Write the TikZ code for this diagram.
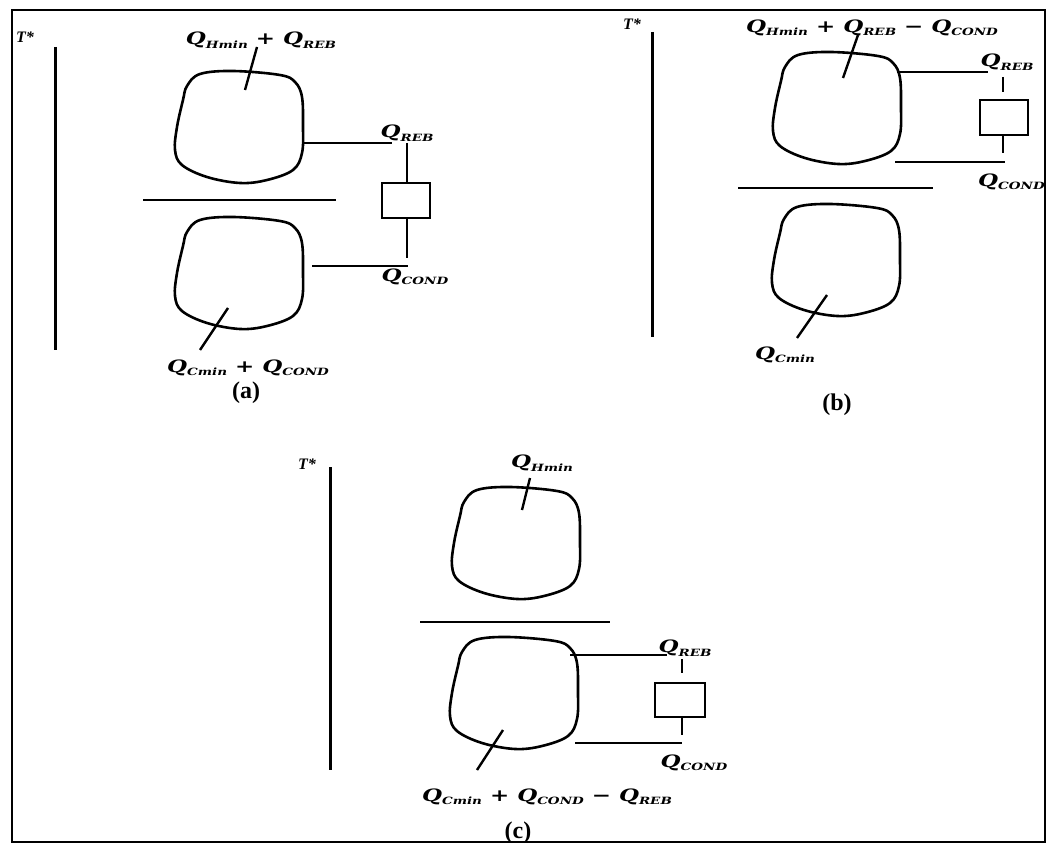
\documentclass[tikz,border=0pt]{standalone}
\usepackage{fontspec}
\newfontfamily\qf[FakeStretch=1.35]{DejaVu Serif}
\newfontfamily\capf{Liberation Serif}
\newcommand\QQ[1]{Q\raisebox{-3.5pt}{\fontsize{10}{10}\selectfont #1}}
\newcommand\mn{\char"2212}
\tikzset{
  blobline/.style={line width=2.6pt, line join=round},
  conn/.style={line width=1.8pt},
  lead/.style={line width=2.4pt},
  tline/.style={line width=3pt},
  sep/.style={line width=2pt},
  hbox/.style={draw, line width=1.8pt, minimum width=48pt, minimum height=35pt, inner sep=0},
  lab/.style={font={\fontsize{17}{17}\selectfont\qf\bfseries\itshape}, inner sep=0},
  tlab/.style={font={\fontsize{16}{16}\selectfont\capf\bfseries\itshape}, inner sep=0},
  caplab/.style={font={\fontsize{24}{24}\selectfont\capf\bfseries}, inner sep=0}
}
\newcommand\myblob[2]{\draw[blobline, shift={(#1,#2)}] plot[smooth cycle, tension=0.6] coordinates {(8,28) (12,14) (25,2) (58,-1) (105,3) (120,10) (127,25) (128,55) (127,81) (118,98) (92,108) (65,111) (32,105) (7,93) (0,78) (2,55)};}
\begin{document}
\begin{tikzpicture}[x=1pt,y=-1pt]
\useasboundingbox (0,0) rectangle (1055,845);
\draw[line width=2.5pt] (12,10) rectangle (1045,842);

% ---------- panel (a)
\node[tlab] (ta) at (25,37) {T*};
\coordinate (ta1) at (55,47); \coordinate (ta2) at (55,350);
\draw[tline] (ta1) -- (ta2);
\myblob{175}{72}
\myblob{175}{218}
\coordinate (sa1) at (143,200); \coordinate (sa2) at (336,200);
\draw[sep] (sa1) -- (sa2);
\node[lab] (la1) at (261,40) {\QQ{Hmin} + \QQ{REB}};
\coordinate (lda1) at (257,47); \coordinate (lda2) at (245,90);
\draw[lead] (lda1) -- (lda2);
\node[lab] (la2) at (248,368) {\QQ{Cmin} + \QQ{COND}};
\coordinate (ldb1) at (228,308); \coordinate (ldb2) at (200,350);
\draw[lead] (ldb1) -- (ldb2);
\node[lab] (ra) at (407,133) {\QQ{REB}};
\node[lab] (ca) at (415,277) {\QQ{COND}};
\node[hbox] (ba) at (406,200.5) {};
\coordinate (ha1) at (303,143); \coordinate (ha2) at (392,143);
\draw[conn] (ha1) -- (ha2);
\coordinate (va1) at (407,143);
\draw[conn] (va1) -- (ba.north -| va1);
\coordinate (va2) at (407,258);
\draw[conn] (ba.south -| va2) -- (va2);
\coordinate (hb1) at (312,266); \coordinate (hb2) at (408,266);
\draw[conn] (hb1) -- (hb2);
\node[caplab] (capa) at (246,393) {(a)};

% ---------- panel (b)
\node[tlab] (tb) at (632,24) {T*};
\coordinate (tb1) at (652,32); \coordinate (tb2) at (652,337);
\draw[tline] (tb1) -- (tb2);
\myblob{773}{53}
\myblob{772}{205}
\coordinate (sb1) at (738,188); \coordinate (sb2) at (933,188);
\draw[sep] (sb1) -- (sb2);
\node[lab] (lb1) at (872,28) {\QQ{Hmin} + \QQ{REB} \mn\ \QQ{COND}};
\coordinate (ldc1) at (858,35); \coordinate (ldc2) at (843,78);
\draw[lead] (ldc1) -- (ldc2);
\node[lab] (lb2) at (785,355) {\QQ{Cmin}};
\coordinate (ldd1) at (827,295); \coordinate (ldd2) at (797,338);
\draw[lead] (ldd1) -- (ldd2);
\node[lab] (rb) at (1007,62) {\QQ{REB}};
\node[lab, anchor=west] (cb) at (978,182) {\QQ{COND}};
\node[hbox] (bb) at (1004,117.5) {};
\coordinate (hc1) at (897,72); \coordinate (hc2) at (988,72);
\draw[conn] (hc1) -- (hc2);
\coordinate (vb1) at (1003,77); \coordinate (vb1e) at (1003,92);
\draw[conn] (vb1) -- (vb1e);
\coordinate (vb2) at (1003,153);
\draw[conn] (bb.south -| vb2) -- (vb2);
\coordinate (hd1) at (895,162); \coordinate (hd2) at (1005,162);
\draw[conn] (hd1) -- (hd2);
\node[caplab] (capb) at (837,405) {(b)};

% ---------- panel (c)
\node[tlab] (tc) at (307,464) {T*};
\coordinate (tc1) at (330,467); \coordinate (tc2) at (330,770);
\draw[tline] (tc1) -- (tc2);
\myblob{452}{488}
\myblob{450}{638}
\coordinate (sc1) at (420,622); \coordinate (sc2) at (610,622);
\draw[sep] (sc1) -- (sc2);
\node[lab] (lc1) at (542,463) {\QQ{Hmin}};
\coordinate (lde1) at (530,478); \coordinate (lde2) at (522,510);
\draw[lead] (lde1) -- (lde2);
\node[lab] (lc2) at (547,797) {\QQ{Cmin} + \QQ{COND} \mn\ \QQ{REB}};
\coordinate (ldf1) at (503,730); \coordinate (ldf2) at (477,770);
\draw[lead] (ldf1) -- (ldf2);
\node[lab] (rc) at (685,648) {\QQ{REB}};
\node[lab] (cc) at (694,763) {\QQ{COND}};
\node[hbox, minimum width=50pt, minimum height=34pt] (bc) at (680,700) {};
\coordinate (he1) at (570,655); \coordinate (he2) at (667,655);
\draw[conn] (he1) -- (he2);
\coordinate (vc1) at (682,659); \coordinate (vc1e) at (682,673);
\draw[conn] (vc1) -- (vc1e);
\coordinate (vc2) at (682,735);
\draw[conn] (bc.south -| vc2) -- (vc2);
\coordinate (hf1) at (575,743); \coordinate (hf2) at (682,743);
\draw[conn] (hf1) -- (hf2);
\node[caplab] (capc) at (518,833) {(c)};
\end{tikzpicture}
\end{document}
